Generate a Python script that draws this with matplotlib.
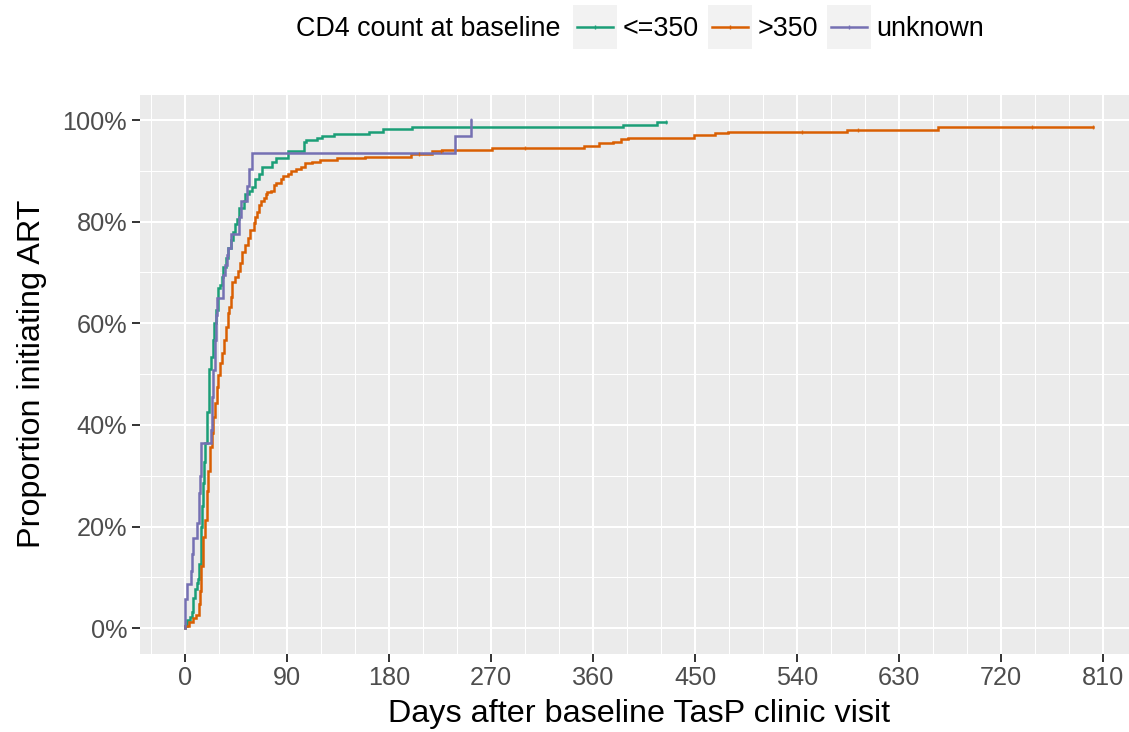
import matplotlib
matplotlib.use("Agg")
import numpy as np
import matplotlib.pyplot as plt
from matplotlib.lines import Line2D
from matplotlib.patches import Rectangle
from matplotlib.ticker import FuncFormatter, MultipleLocator

plt.rcParams['font.family'] = ['Liberation Sans', 'DejaVu Sans']

# ---------------- data ----------------
legend_title = "CD4 count at baseline"
groups = ["<=350", ">350", "unknown"]
colors = ["#1B9E77", "#D95F02", "#7570B3"]

days_le350 = [0, 2, 4.4, 5.9, 7.4, 8.8, 10.3, 11.8, 12.6, 13.8, 14.5, 15.5, 16.5, 17.6,
              19.7, 21.5, 23, 24.4, 25.9, 27.4, 28.8, 30.9, 32.3, 33.8, 36.2, 38.2, 40.3,
              42.1, 44, 45.6, 48, 51.6, 53, 56, 59, 62, 65, 68, 77, 80, 90.6, 105, 107,
              116, 121, 131, 162, 175, 200, 386, 416, 424]
prop_le350 = [0.5, 1.7, 2.3, 3.3, 6, 7.7, 9, 9.7, 12.7, 20, 24, 28.5, 32.7, 36.5,
              42.6, 51.1, 53.4, 56.7, 60, 62.6, 66.9, 67.5, 69.2, 71.1, 72.8, 74.8, 76.4,
              78, 79.5, 80.5, 82.6, 84, 85.4, 86, 86.8, 88.3, 89.3, 90.7, 91.8, 92.5, 93.9,
              95.7, 96, 96.4, 96.9, 97.2, 97.7, 98.2, 98.7, 99.0, 99.6, 99.6]

days_gt350 = [0, 3.2, 6.8, 9.7, 12, 13, 14, 15.6, 18, 19.5, 20.5, 22, 23.5, 25, 26.5, 28,
              29.4, 30.9, 32.9, 34.4, 35.9, 37.6, 39.1, 40.3, 41.8, 44.1, 47, 48.5, 50,
              52.9, 55.9, 57.4, 60.6, 62, 63.6, 65, 66.6, 69.6, 71, 72.6, 75.6, 78.6, 80,
              84.6, 86, 90.6, 93.6, 98, 102, 106, 112, 119, 134, 159, 199, 218, 227, 271,
              352, 365, 378, 385, 391, 449, 468, 479, 584, 664, 801]
prop_gt350 = [0.5, 1.3, 2, 2.7, 4.7, 7.3, 12.3, 18, 21.4, 27, 31, 35.7, 38.4, 41.6, 44.3,
              47.5, 49.8, 52.1, 54.1, 56.7, 59.3, 62, 63.3, 65.2, 68.2, 69.2, 70.2, 71.8,
              74.1, 75.4, 76.7, 78.4, 79.8, 80.9, 81.9, 83.3, 84, 84.7, 85.4, 85.8, 86.1,
              87.2, 87.6, 88.3, 89, 89.3, 90, 90.4, 90.7, 91.5, 91.7, 92.1, 92.5, 92.8,
              93.3, 93.9, 94.1, 94.4, 94.9, 95.4, 95.7, 96.2, 96.5, 97.0, 97.4, 97.6,
              98.1, 98.7, 98.7]

days_unk = [0, 1.5, 5, 6, 7.4, 10.3, 12.6, 13.2, 13.8, 22.7, 23.8, 25, 26.2, 27.4, 28,
            33.8, 35, 36.8, 38.2, 40.3, 48, 49.5, 54.6, 56.4, 59.1, 238, 252]
prop_unk = [5.7, 8.7, 11.3, 14.7, 17.7, 20.7, 26.7, 30, 36.4, 39, 45.6, 50.8, 56.7, 61.6,
            64.9, 69.5, 71.5, 73.4, 74.8, 77.6, 81, 84, 87, 90.4, 93.5, 96.8, 100]

censor_le350 = [424]
censor_gt350 = [206, 226, 300, 544, 594, 747, 801]
censor_unk = [252]

x_ticks = [0, 90, 180, 270, 360, 450, 540, 630, 720, 810]
y_ticks = [0, 20, 40, 60, 80, 100]
x_label = "Days after baseline TasP clinic visit"
y_label = "Proportion initiating ART"

# ---------------- figure ----------------
W, H = 1129, 732
fig = plt.figure(figsize=(W / 100, H / 100), dpi=100)
fig.patch.set_facecolor("white")

# panel in pixel coordinates
pl, pr, pt, pb = 139.7, 1138.2, 94.6, 653.7
ax = fig.add_axes([pl / W, 1 - pb / H, (pr - pl) / W, (pb - pt) / H])
ax.set_facecolor("#EBEBEB")
for s in ax.spines.values():
    s.set_visible(False)

series = [(days_le350, prop_le350, censor_le350),
          (days_gt350, prop_gt350, censor_gt350),
          (days_unk, prop_unk, censor_unk)]

for (d, p, cens), col in zip(series, colors):
    d = np.array([0] + list(d), dtype=float)
    p = np.array([0] + list(p), dtype=float)
    ax.step(d, p, where="post", color=col, lw=1.8, zorder=3, solid_joinstyle="miter")
    cens = np.array(cens, dtype=float)
    idx = np.searchsorted(d, cens, side="right") - 1
    ax.plot(cens, p[idx], linestyle="none", marker="|", ms=3.5, mew=1.0, color=col,
            alpha=0.8, zorder=4)

ax.set_xlim(-40.05, 841)
ax.set_ylim(-5, 105)
ax.set_xticks(x_ticks)
ax.set_yticks(y_ticks)
ax.xaxis.set_minor_locator(MultipleLocator(30))
ax.yaxis.set_minor_locator(MultipleLocator(10))
ax.yaxis.set_major_formatter(FuncFormatter(lambda v, pos: f"{int(round(v))}%"))

ax.grid(which="major", color="white", lw=1.5, zorder=1)
ax.grid(which="minor", color="white", lw=0.75, zorder=1)
ax.set_axisbelow(True)

ax.tick_params(which="major", length=5.5, width=1.4, color="#333333",
               labelsize=18.2, labelcolor="#4D4D4D", pad=3.5)
ax.tick_params(which="minor", length=0)

ax.set_xlabel(x_label, fontsize=23.3, color="black", labelpad=6)
ax.set_ylabel(y_label, fontsize=23.3, color="black", labelpad=11)

# ---------------- legend (ggplot-style, horizontal, top) ----------------
def fx(px):
    return px / W

def fy(py):
    return 1 - py / H

renderer = fig.canvas.get_renderer()
leg_fs = 19.4
yc = 26.5
key = 44.0
x = 296.0
t = fig.text(fx(x), fy(yc), legend_title, fontsize=leg_fs, color="black",
             ha="left", va="center_baseline")
x += t.get_window_extent(renderer).width + 12.5
for g, col in zip(groups, colors):
    fig.add_artist(Rectangle((fx(x), fy(yc + key / 2)), key / W, key / H,
                             transform=fig.transFigure, facecolor="#F2F2F2",
                             edgecolor="none"))
    fig.add_artist(Line2D([fx(x + 4), fx(x + key - 4)], [fy(yc), fy(yc)],
                          transform=fig.transFigure, color=col, lw=1.8))
    fig.add_artist(Line2D([fx(x + key / 2)], [fy(yc)], transform=fig.transFigure,
                          color=col, marker="|", ms=3.5, mew=1.0, linestyle="none"))
    x += key + 6
    t = fig.text(fx(x), fy(yc), g, fontsize=leg_fs, color="black",
                 ha="left", va="center_baseline")
    x += t.get_window_extent(renderer).width + 8.5

fig.savefig("out.png", dpi=100, facecolor="white")
